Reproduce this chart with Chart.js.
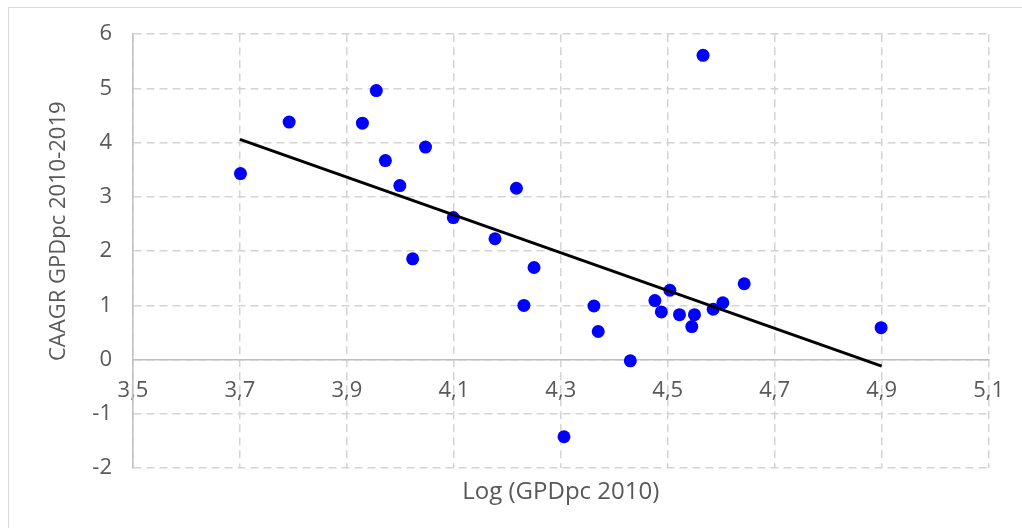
<!DOCTYPE html>
<html lang="en">
<head>
    <meta charset="UTF-8">
    <title>CAAGR vs Log GDPpc</title>
    <script src="https://cdn.jsdelivr.net/npm/chart.js"></script>
    <style>
        body {
            margin: 0;
            background-color: #ffffff;
            overflow: hidden;
        }

        .wrap {
            position: relative;
            width: 1022px;
            height: 528px;
        }

        .frame {
            position: absolute;
            left: 8px;
            top: 7px;
            width: 1030px;
            height: 540px;
            border: 1px solid #d9d9d9;
        }

        canvas {
            position: absolute;
            left: 0;
            top: 0;
        }
    </style>
</head>
<body>
    <div class="wrap">
        <div class="frame"></div>
        <canvas id="scatterChart" width="1022" height="528"></canvas>
    </div>

    <script>
        // Log(GDPpc 2010) for each country
        const logGdp = [3.701, 3.792, 3.929, 3.955, 3.972, 3.999, 4.047, 4.023, 4.099, 4.177,
            4.217, 4.231, 4.250, 4.306, 4.362, 4.370, 4.430, 4.476, 4.488, 4.504,
            4.522, 4.545, 4.550, 4.566, 4.585, 4.603, 4.643, 4.899];
        // CAAGR GDPpc 2010-2019
        const caagr = [3.43, 4.38, 4.36, 4.96, 3.67, 3.21, 3.92, 1.86, 2.62, 2.23,
            3.16, 1.00, 1.70, -1.42, 0.99, 0.52, -0.02, 1.09, 0.88, 1.28,
            0.83, 0.61, 0.83, 5.61, 0.93, 1.05, 1.40, 0.59];

        // linear trend line end points
        const trendX = [3.7, 4.9];
        const trendY = [4.06, -0.12];

        const xTickValues = [3.5, 3.7, 3.9, 4.1, 4.3, 4.5, 4.7, 4.9, 5.1];
        const yMin = -2;
        const yMax = 6;

        const textColor = '#595959';
        const fontFamily = "'Open Sans', sans-serif";

        const points = logGdp.map((x, i) => ({ x: x, y: caagr[i] }));
        const trend = trendX.map((x, i) => ({ x: x, y: trendY[i] }));

        const gridStyle = {
            color: '#d4d4d4',
            lineWidth: 1.5,
            drawTicks: false
        };

        const ctx = document.getElementById('scatterChart').getContext('2d');
        new Chart(ctx, {
            type: 'scatter',
            data: {
                datasets: [{
                    label: 'Trend',
                    type: 'line',
                    data: trend,
                    borderColor: '#000000',
                    borderWidth: 3,
                    pointRadius: 0,
                    fill: false,
                    order: 0
                },
                {
                    label: 'Countries',
                    data: points,
                    backgroundColor: '#0000ff',
                    borderWidth: 0,
                    pointRadius: 6.5,
                    order: 1
                }]
            },
            options: {
                responsive: false,
                animation: false,
                layout: {
                    padding: { left: 42, right: 33, top: 34, bottom: 17 }
                },
                plugins: {
                    legend: { display: false },
                    tooltip: { enabled: false },
                    title: {
                        display: true,
                        position: 'bottom',
                        fullSize: false,
                        text: 'Log (GPDpc 2010)',
                        color: textColor,
                        font: { family: fontFamily, size: 24, weight: 'normal' },
                        padding: { top: 10, bottom: 4 }
                    }
                },
                scales: {
                    x: {
                        type: 'linear',
                        position: { y: 0 },
                        min: 3.5,
                        max: 5.1,
                        afterBuildTicks: function (scale) {
                            scale.ticks = xTickValues.map(v => ({ value: v }));
                        },
                        ticks: {
                            color: textColor,
                            padding: 18,
                            maxRotation: 0,
                            autoSkip: false,
                            font: { family: fontFamily, size: 22 },
                            callback: function (value) {
                                return value.toFixed(1).replace('.', ',');
                            }
                        },
                        grid: gridStyle,
                        border: { color: '#bfbfbf', width: 1.5, dash: [8, 5] }
                    },
                    y: {
                        type: 'linear',
                        min: yMin,
                        max: yMax,
                        afterFit: function (scale) {
                            scale.width = 91;
                        },
                        ticks: {
                            stepSize: 1,
                            color: textColor,
                            padding: 21,
                            font: { family: fontFamily, size: 22 }
                        },
                        grid: gridStyle,
                        border: { color: '#bfbfbf', width: 1.5, dash: [8, 5] },
                        title: {
                            display: true,
                            // leading spaces nudge the label upwards, as in the original
                            text: '       CAAGR GPDpc 2010-2019',
                            color: textColor,
                            font: { family: fontFamily, size: 22 }
                        }
                    }
                }
            }
        });
    </script>
</body>
</html>
